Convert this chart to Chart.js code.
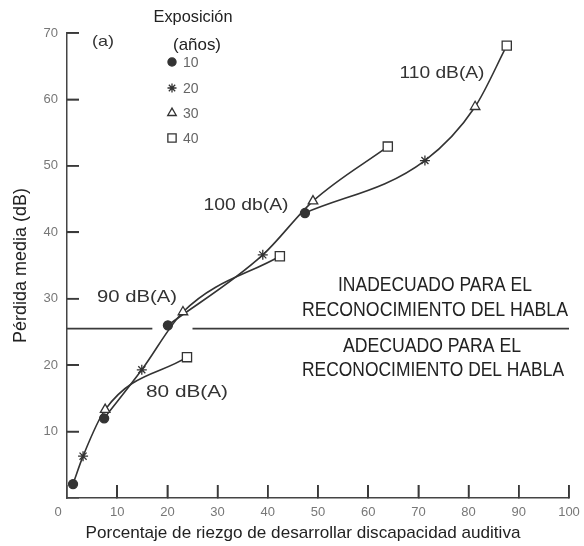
<!DOCTYPE html>
<html>
<head>
<meta charset="utf-8">
<script src="https://cdn.jsdelivr.net/npm/chart.js@4"></script>
<style>
html,body{margin:0;padding:0;background:#fff;}
#wrap{width:584px;height:546px;}
</style>
</head>
<body>
<div id="wrap"><canvas id="c" width="584" height="546"></canvas></div>
<script>
// ---- data ----
const exposureYears = ['10', '20', '30', '40'];
const markerStyles = ['circle', 'star', 'triangle', 'rect'];
const levels = ['80 dB(A)', '90 dB(A)', '100 db(A)', '110 dB(A)'];
const riskPct80 = [1.2, 3.2, 7.6, 23.9];
const loss80 = [2.1, 6.3, 13.3, 21.2];
const riskPct90 = [7.4, 14.9, 23.1, 42.4];
const loss90 = [12.0, 19.3, 28.0, 36.4];
const riskPct100 = [20.1, 39.0, 49.0, 63.9];
const loss100 = [26.0, 36.6, 44.7, 52.9];
const riskPct110 = [47.4, 71.3, 81.3, 87.6];
const loss110 = [42.9, 50.8, 58.9, 68.1];
const limitLoss = 25.5;
const limitSegA = [0, 17];
const limitSegB = [25, 100];
const xTickValues = [0, 10, 20, 30, 40, 50, 60, 70, 80, 90, 100];
const yTickValues = [0, 10, 20, 30, 40, 50, 60, 70];

const INK = '#333';
const radii = [4.5, 5, 5.5, 6.5];
const fills = [INK, INK, '#fff', '#fff'];

function pts(xs, ys) { return xs.map((x, i) => ({x: x, y: ys[i]})); }
function curve(label, xs, ys) {
  return {
    label: label,
    data: pts(xs, ys),
    showLine: true,
    cubicInterpolationMode: 'monotone',
    borderColor: INK,
    borderWidth: 1.6,
    pointStyle: markerStyles,
    pointRadius: radii,
    pointBackgroundColor: fills,
    pointBorderColor: INK,
    pointBorderWidth: 1.3,
    order: 1
  };
}
function hline(a) {
  return {
    label: 'limit',
    data: [{x: a[0], y: limitLoss}, {x: a[1], y: limitLoss}],
    showLine: true,
    borderColor: '#3a3a3a',
    borderWidth: 1.6,
    pointRadius: 0,
    order: 2
  };
}

function fitText(ctx, text, cx, cy, fontPx, targetW, color) {
  ctx.save();
  ctx.font = fontPx + 'px "Liberation Sans", Arial, sans-serif';
  const w = ctx.measureText(text).width;
  const sx = targetW ? targetW / w : 1;
  ctx.translate(cx, cy);
  ctx.scale(sx, 1);
  ctx.fillStyle = color;
  ctx.textAlign = 'center';
  ctx.textBaseline = 'middle';
  ctx.fillText(text, 0, 0);
  ctx.restore();
}

const decor = {
  id: 'decor',
  afterDraw(chart) {
    const ctx = chart.ctx;
    const xs = chart.scales.x, ys = chart.scales.y;
    const area = chart.chartArea;

    // inward tick marks (same positions as the scale's own tick marks)
    ctx.save();
    ctx.fillStyle = '#3a3a3a';
    for (let i = 1; i < yTickValues.length; i++) {
      const py = ys.getPixelForValue(yTickValues[i]);
      ctx.fillRect(area.left, py - 0.8, 12, 1.6);
    }
    for (let i = 1; i < xTickValues.length; i++) {
      const px = xs.getPixelForValue(xTickValues[i]);
      ctx.fillRect(px - 0.8, area.bottom - 13, 1.6, 13);
    }
    ctx.restore();

    // origin label
    ctx.save();
    ctx.font = '13px "Liberation Sans", Arial, sans-serif';
    ctx.fillStyle = '#777';
    ctx.textAlign = 'center'; ctx.textBaseline = 'middle';
    ctx.fillText('0', xs.getPixelForValue(0) - 9, 512);
    ctx.restore();

    // x axis title
    fitText(ctx, 'Porcentaje de riezgo de desarrollar discapacidad auditiva', 303, 533, 17, 435, '#222');

    // curve labels
    fitText(ctx, levels[0], 187, 392, 17, 82, INK);
    fitText(ctx, levels[1], 137, 297, 17, 80, INK);
    fitText(ctx, levels[2], 246, 205, 17, 85, INK);
    fitText(ctx, levels[3], 442, 73, 17, 85, INK);
    fitText(ctx, '(a)', 103, 42, 15, 22, INK);

    // region annotations
    fitText(ctx, 'INADECUADO PARA EL', 435, 285, 20, 194, '#222');
    fitText(ctx, 'RECONOCIMIENTO DEL HABLA', 435, 310, 20, 266, '#222');
    fitText(ctx, 'ADECUADO PARA EL', 432, 346, 20, 178, '#222');
    fitText(ctx, 'RECONOCIMIENTO DEL HABLA', 433, 370, 20, 262, '#222');

    // legend
    fitText(ctx, 'Exposición', 193, 17, 17, 79, '#222');
    fitText(ctx, '(años)', 197, 45, 17, 48, '#222');
    const rowY = [62, 88, 113, 138];
    exposureYears.forEach((yr, i) => {
      ctx.save();
      ctx.fillStyle = fills[i];
      ctx.strokeStyle = INK;
      ctx.lineWidth = 1.3;
      Chart.helpers.drawPoint(ctx, {pointStyle: markerStyles[i], radius: radii[i] * 0.9, borderWidth: 1.3}, 172, rowY[i]);
      ctx.restore();
      ctx.save();
      ctx.font = '14px "Liberation Sans", Arial, sans-serif';
      ctx.fillStyle = '#666';
      ctx.textAlign = 'left'; ctx.textBaseline = 'middle';
      ctx.fillText(yr, 183, rowY[i] + 1);
      ctx.restore();
    });
  }
};

new Chart(document.getElementById('c'), {
  type: 'scatter',
  data: {
    datasets: [
      curve(levels[0], riskPct80, loss80),
      curve(levels[1], riskPct90, loss90),
      curve(levels[2], riskPct100, loss100),
      curve(levels[3], riskPct110, loss110),
      hline(limitSegA),
      hline(limitSegB)
    ]
  },
  options: {
    responsive: false,
    animation: false,
    layout: {padding: {top: 33, right: 15, left: 0, bottom: 0}},
    plugins: {legend: {display: false}, tooltip: {enabled: false}},
    scales: {
      x: {
        type: 'linear', min: 0, max: 100,
        afterFit(s) { s.height = 48; s.paddingLeft = 0; s.paddingRight = 0; },
        afterBuildTicks(s) { s.ticks = xTickValues.map(v => ({value: v})); },
        grid: {display: true, drawOnChartArea: false, drawTicks: true, tickLength: -13,
          color: '#3a3a3a', lineWidth: 1.6},
        border: {display: true, color: '#444', width: 1.5},
        ticks: {padding: 20, color: '#777', font: {size: 13, family: 'Liberation Sans'},
          callback: v => v === 0 ? '' : String(v)},
        title: {display: false}
      },
      y: {
        type: 'linear', min: 0, max: 70,
        afterFit(s) { s.width = 67; s.paddingTop = 0; s.paddingBottom = 0; },
        afterBuildTicks(s) { s.ticks = yTickValues.map(v => ({value: v})); },
        grid: {display: true, drawOnChartArea: false, drawTicks: true, tickLength: -12,
          color: '#3a3a3a', lineWidth: 1.6},
        border: {display: true, color: '#444', width: 1.5},
        ticks: {padding: 21, color: '#777', font: {size: 13, family: 'Liberation Sans'},
          callback: v => v === 0 ? '' : String(v)},
        title: {display: true, text: 'Pérdida media (dB)', color: '#222',
          font: {size: 18, family: 'Liberation Sans'}, padding: {top: 10, bottom: 0}}
      }
    }
  },
  plugins: [decor]
});
</script>
</body>
</html>
